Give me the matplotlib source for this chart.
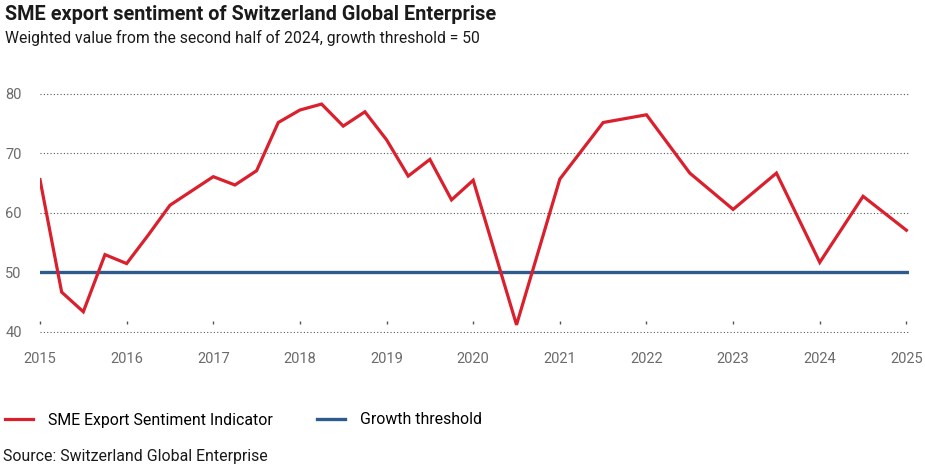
import numpy as np
import matplotlib
matplotlib.use("Agg")
import matplotlib.pyplot as plt

plt.rcParams['font.family'] = ['Roboto', 'DejaVu Sans']

# quarterly/half-year readings as decimal years
dates = [2015.0, 2015.25, 2015.5, 2015.75, 2016.0, 2016.25, 2016.5, 2017.0,
         2017.25, 2017.5, 2017.75, 2018.0, 2018.25, 2018.5, 2018.75, 2019.0,
         2019.25, 2019.5, 2019.75, 2020.0, 2020.5, 2021.0, 2021.5, 2022.0,
         2022.5, 2023.0, 2023.5, 2024.0, 2024.5, 2025.0]
sentiment = [65.6, 46.7, 43.4, 53.0, 51.5, 56.3, 61.3, 66.1,
             64.7, 67.1, 75.2, 77.3, 78.3, 74.6, 77.0, 72.3,
             66.2, 69.0, 62.2, 65.5, 41.2, 65.7, 75.2, 76.5,
             66.7, 60.6, 66.7, 51.7, 62.8, 57.1]
threshold = 50
years = list(range(2015, 2026))
yticks = [40, 50, 60, 70, 80]

red = '#da1f2d'
blue = '#2e5a8c'
grey = '#6b6b6b'

fig = plt.figure(figsize=(9.25, 4.66), dpi=100)
# bottom a hair below the 40 line so that gridline is drawn
ax = fig.add_axes([40 / 925, 1 - 333 / 466, 869 / 925, 245 / 466])

ax.plot(dates, sentiment, color=red, lw=2.3, solid_joinstyle='miter',
        label='SME Export Sentiment Indicator', zorder=3)
ax.axhline(threshold, color=blue, lw=2.4, label='Growth threshold', zorder=2)

ax.set_xlim(2015, 2025.03)
ax.set_ylim(39.83, 81)
ax.set_yticks(yticks)
ax.set_xticks(years)
ax.grid(axis='y', linestyle=(0, (1, 2)), color='#555555', lw=0.8)
ax.grid(axis='x', visible=False)
for s in ax.spines.values():
    s.set_visible(False)
ax.tick_params(axis='x', length=0, pad=14, labelsize=10.5, labelcolor=grey)
ax.tick_params(axis='y', length=0, pad=25, labelsize=10.5, labelcolor=grey)
for lab in ax.get_yticklabels():
    lab.set_horizontalalignment('left')

# small tick marks floating just above the 40 line
sec = ax.secondary_xaxis(0.037)
sec.set_xticks(years)
sec.tick_params(direction='in', length=2.4, width=1, color='#555555', labelbottom=False)
sec.spines['bottom'].set_visible(False)

fig.text(5 / 925, 1 - 14 / 466, 'SME export sentiment of Switzerland Global Enterprise',
         fontsize=14.3, fontweight='bold', color='#1a1a1a', va='center')
fig.text(5 / 925, 1 - 38 / 466, 'Weighted value from the second half of 2024, growth threshold = 50',
         fontsize=11.3, color='#1a1a1a', va='center')

fig.legend(loc='center left', bbox_to_anchor=(5 / 925, 1 - 420 / 466), ncol=2, frameon=False,
           fontsize=11.4, handlelength=1.75, handletextpad=0.95, columnspacing=2.8,
           borderaxespad=0, borderpad=0)
fig.text(3 / 925, 1 - 457 / 466, 'Source: Switzerland Global Enterprise',
         fontsize=11.4, color='#1a1a1a', va='center')

fig.savefig('out.png', dpi=100)
